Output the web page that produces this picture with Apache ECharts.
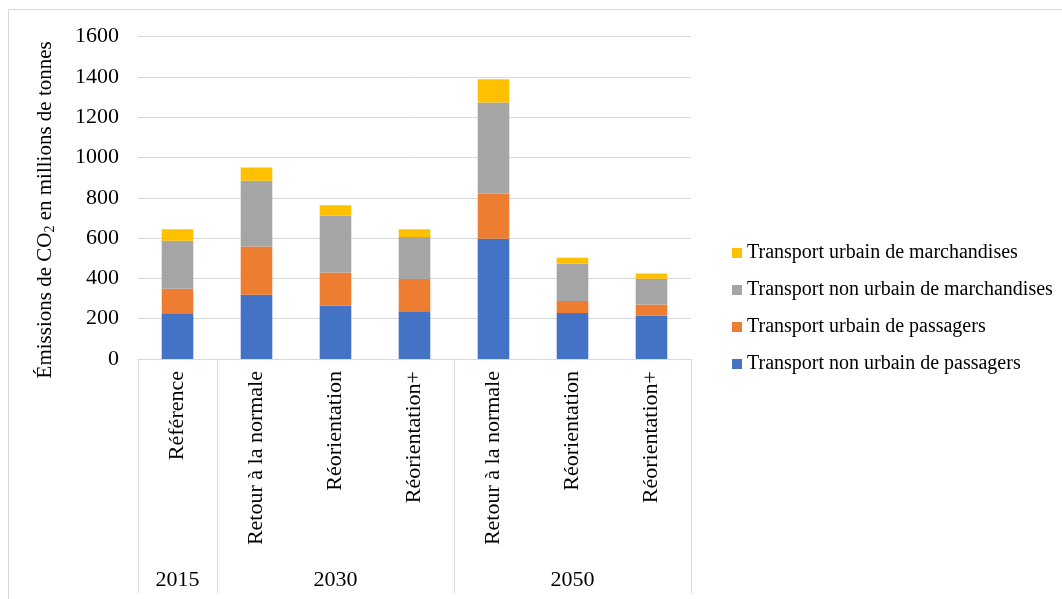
<!DOCTYPE html>
<html>
<head>
<meta charset="utf-8">
<script src="https://cdn.jsdelivr.net/npm/echarts@6/dist/echarts.min.js"></script>
<style>
html,body{margin:0;padding:0;background:#fff;}
#chart{width:1062px;height:599px;}
</style>
</head>
<body>
<div id="chart"></div>
<script>
// ---- data ----
const scenarios = ['Référence', 'Retour à la normale', 'Réorientation', 'Réorientation+', 'Retour à la normale', 'Réorientation', 'Réorientation+'];
const years = ['2015', '2030', '2050'];
const yearSpans = [1, 3, 3];
const nonUrbainPassagers = [227, 319, 265, 237, 597, 228, 215];
const urbainPassagers = [122, 239, 165, 160, 224, 60, 55];
const nonUrbainMarchandises = [238, 327, 282, 209, 452, 185, 129];
const urbainMarchandises = [57, 66, 51, 38, 116, 30, 25];
const seriesNames = ['Transport non urbain de passagers', 'Transport urbain de passagers', 'Transport non urbain de marchandises', 'Transport urbain de marchandises'];
const seriesColors = ['#4472C4', '#ED7D31', '#A5A5A5', '#FFC000'];
const yTicks = [0, 200, 400, 600, 800, 1000, 1200, 1400, 1600];

// group axis helpers
const groupStarts = [];
const groupAxisData = scenarios.map(() => '');
let s = 0;
years.forEach((y, i) => {
  groupStarts.push(s);
  groupAxisData[s + Math.floor(yearSpans[i] / 2)] = y;
  s += yearSpans[i];
});

const FONT = 'Liberation Serif';
const chart = echarts.init(document.getElementById('chart'));
const seriesData = [nonUrbainPassagers, urbainPassagers, nonUrbainMarchandises, urbainMarchandises];

chart.setOption({
  backgroundColor: '#fff',
  animation: false,
  textStyle: { fontFamily: FONT },
  graphic: [{
    type: 'rect',
    shape: { x: 8.5, y: 9.5, width: 1200, height: 700 },
    style: { fill: 'none', stroke: '#d9d9d9', lineWidth: 1 },
    silent: true
  }],
  grid: { left: 138, right: 371, top: 36.7, bottom: 240 },
  legend: {
    orient: 'vertical',
    left: 727,
    top: 238,
    itemWidth: 10,
    itemHeight: 10,
    itemGap: 17,
    icon: 'rect',
    data: seriesNames.slice().reverse(),
    textStyle: { fontFamily: FONT, fontSize: 20, color: '#000' }
  },
  xAxis: [{
    type: 'category',
    position: 'bottom',
    data: scenarios,
    axisLine: { lineStyle: { color: '#d9d9d9', width: 1 } },
    axisTick: { show: false },
    axisLabel: { rotate: 90, margin: 12, fontFamily: FONT, fontSize: 22, color: '#000', interval: 0 }
  }, {
    type: 'category',
    position: 'bottom',
    data: groupAxisData,
    axisLine: { show: false },
    axisTick: {
      show: true,
      length: 234,
      lineStyle: { color: '#d9d9d9', width: 1 },
      interval: (idx) => groupStarts.indexOf(idx) >= 0
    },
    axisLabel: {
      margin: 210,
      fontFamily: FONT, fontSize: 22, color: '#000',
      interval: (idx, val) => val !== ''
    }
  }],
  yAxis: {
    type: 'value',
    min: yTicks[0],
    max: yTicks[yTicks.length - 1],
    interval: 200,
    name: 'Émissions de CO{sub|2} en millions de tonnes',
    nameLocation: 'middle',
    nameGap: 81,
    nameTextStyle: {
      fontFamily: FONT, fontSize: 21, color: '#000',
      padding: [0, 24, 0, 0],
      rich: { sub: { fontFamily: FONT, fontSize: 14, color: '#000', padding: [10, 0, 0, 0] } }
    },
    axisLine: { show: false },
    axisTick: { show: false },
    splitLine: { lineStyle: { color: '#d9d9d9', width: 1 } },
    axisLabel: { margin: 19, fontFamily: FONT, fontSize: 22, color: '#000', formatter: (v) => String(v) }
  },
  series: seriesNames.map((n, i) => ({
    name: n,
    type: 'bar',
    stack: 'total',
    barWidth: '40%',
    xAxisIndex: 0,
    itemStyle: { color: seriesColors[i] },
    data: seriesData[i]
  }))
});
</script>
</body>
</html>
